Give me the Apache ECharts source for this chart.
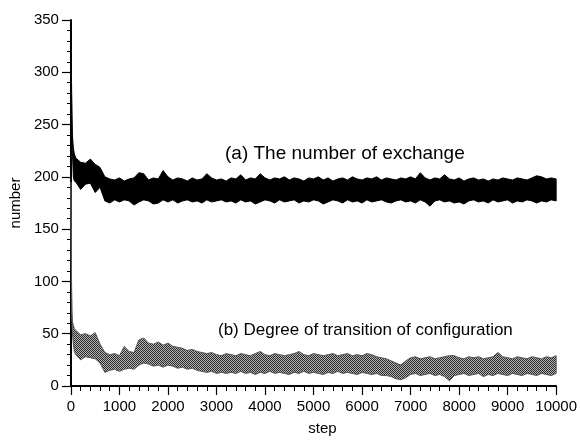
<!DOCTYPE html>
<html>
<head>
<meta charset="utf-8">
<title>number vs step</title>
<script src="https://cdn.jsdelivr.net/npm/echarts@6/dist/echarts.min.js"></script>
<style>
  html, body { margin: 0; padding: 0; background: #fff; }
  #chart { width: 580px; height: 441px; }
</style>
</head>
<body>
<div id="chart"></div>
<script>
// sample positions: a few early steps, then every 100 steps up to 10000
const earlySteps = [0, 10, 20, 30, 50, 70];
const steps = earlySteps.concat(Array.from({ length: 100 }, (_, i) => (i + 1) * 100));

const yTicks = [0, 50, 100, 150, 200, 250, 300, 350];
const xTicks = [0, 1000, 2000, 3000, 4000, 5000, 6000, 7000, 8000, 9000, 10000];

// (a) The number of exchange : upper / lower edge of the noisy band
const aHigh = [337, 300, 262, 240, 228, 222,
  218, 214, 213, 217, 212, 209, 200, 198, 197, 199,
  196, 198, 199, 204, 203, 197, 199, 198, 206, 200,
  197, 199, 198, 196, 199, 197, 198, 203, 199, 197,
  198, 196, 199, 198, 202, 197, 199, 198, 203, 199,
  197, 199, 198, 200, 197, 199, 198, 196, 199, 198,
  200, 197, 199, 196, 198, 199, 197, 200, 198, 197,
  199, 198, 200, 197, 199, 198, 197, 199, 198, 200,
  198, 204, 199, 197, 199, 198, 202, 198, 197, 199,
  196, 198, 199, 197, 198, 196, 198, 197, 199, 198,
  197, 199, 198, 197, 199, 201, 200, 198, 199, 198];
const aLow = [335, 290, 250, 225, 200, 196,
  195, 188, 193, 194, 185, 190, 177, 175, 178, 176,
  178, 177, 173, 176, 178, 177, 174, 175, 178, 176,
  178, 175, 177, 178, 176, 177, 175, 178, 176, 177,
  178, 176, 177, 175, 178, 176, 177, 174, 176, 178,
  177, 175, 178, 176, 177, 178, 175, 177, 176, 178,
  177, 174, 176, 178, 177, 175, 178, 176, 177, 175,
  178, 176, 177, 178, 176, 175, 177, 178, 176, 177,
  175, 178, 176, 172, 177, 178, 176, 177, 175, 176,
  174, 177, 178, 176, 177, 175, 178, 176, 177, 178,
  175, 177, 176, 178, 177, 175, 177, 176, 178, 177];

// (b) Degree of transition of configuration
const bHigh = [195, 110, 72, 62, 58, 55,
  53, 49, 50, 48, 51, 40, 32, 30, 31, 29,
  38, 33, 32, 44, 46, 41, 40, 42, 39, 41,
  38, 37, 36, 34, 35, 33, 32, 31, 32, 30,
  29, 31, 30, 29, 31, 30, 29, 31, 33, 30,
  29, 31, 30, 29, 30, 31, 33, 30, 29, 31,
  30, 29, 30, 31, 29, 30, 31, 29, 30, 29,
  31, 30, 28, 27, 26, 24, 22, 20, 24, 27,
  28, 26, 27, 28, 26, 27, 28, 29, 29, 27,
  26, 28, 27, 28, 26, 27, 28, 32, 28, 27,
  26, 28, 27, 26, 28, 27, 26, 28, 27, 29];
const bLow = [190, 100, 64, 52, 40, 33,
  30, 25, 28, 27, 26, 22, 13, 15, 16, 14,
  16, 17, 16, 20, 22, 21, 19, 20, 18, 20,
  19, 17, 18, 16, 17, 15, 14, 13, 14, 12,
  13, 12, 13, 12, 14, 12, 13, 11, 13, 12,
  14, 12, 13, 12, 11, 13, 12, 14, 12, 13,
  12, 11, 13, 12, 14, 12, 13, 12, 11, 13,
  12, 11, 12, 10, 10, 9, 7, 6, 8, 11,
  12, 10, 11, 12, 10, 11, 9, 5, 10, 11,
  12, 10, 11, 12, 9, 11, 10, 12, 11, 10,
  12, 11, 10, 12, 11, 10, 12, 11, 10, 12];

const FONT = 'Liberation Sans, Arial, Helvetica, sans-serif';

// halftone look of the grey band
function halftone() {
  const c = document.createElement('canvas');
  c.width = 2; c.height = 2;
  const ctx = c.getContext('2d');
  ctx.fillStyle = '#b4b4b4'; ctx.fillRect(0, 0, 2, 2);
  ctx.fillStyle = '#2a2a2a'; ctx.fillRect(0, 0, 1, 1); ctx.fillRect(1, 1, 1, 1);
  return c;
}

// one filled polygon per band: upper edge forward, lower edge back
function band(name, hi, lo, stroke, fill) {
  return {
    name: name,
    type: 'custom',
    clip: true,
    encode: { x: 0, y: [1, 2] },
    data: steps.map((s, i) => [s, lo[i], hi[i]]),
    renderItem: function (params, api) {
      if (params.dataIndex !== 0) return null;
      const pts = [];
      for (let i = 0; i < steps.length; i++) pts.push(api.coord([steps[i], hi[i]]));
      for (let i = steps.length - 1; i >= 0; i--) pts.push(api.coord([steps[i], lo[i]]));
      return {
        type: 'polygon',
        shape: { points: pts },
        style: { fill: fill, stroke: stroke, lineWidth: 1 }
      };
    }
  };
}

const chart = echarts.init(document.getElementById('chart'));

const option = {
  animation: false,
  backgroundColor: '#fff',
  grid: { left: 64, right: 22, top: 20, bottom: 54 },
  xAxis: {
    type: 'value',
    min: xTicks[0],
    max: xTicks[xTicks.length - 1],
    interval: 1000,
    name: 'step',
    nameLocation: 'middle',
    nameGap: 35,
    nameTextStyle: { fontFamily: FONT, fontSize: 15, color: '#000', padding: [0, 0, 0, 18] },
    axisLine: { lineStyle: { color: '#000', width: 2 } },
    axisTick: { inside: false, length: 9, lineStyle: { color: '#000', width: 1.2 } },
    minorTick: { show: true, splitNumber: 5, length: 5, lineStyle: { color: '#000', width: 1 } },
    splitLine: { show: false },
    axisLabel: {
      fontFamily: FONT, fontSize: 15, color: '#000', margin: 13, showMaxLabel: true,
      formatter: v => String(v)
    }
  },
  yAxis: {
    type: 'value',
    min: yTicks[0],
    max: yTicks[yTicks.length - 1],
    interval: 50,
    name: 'number',
    nameLocation: 'middle',
    nameGap: 42,
    nameTextStyle: { fontFamily: FONT, fontSize: 15, color: '#000' },
    axisLine: { show: true, lineStyle: { color: '#000', width: 2 } },
    axisTick: { show: true, inside: false, length: 9, lineStyle: { color: '#000', width: 1.2 } },
    minorTick: { show: true, splitNumber: 5, length: 4, lineStyle: { color: '#000', width: 1 } },
    splitLine: { show: false },
    axisLabel: { fontFamily: FONT, fontSize: 15, color: '#000', margin: 12 }
  },
  graphic: [{
    type: 'text',
    left: 225,
    top: 144,
    style: { text: '(a) The number of exchange', font: '19px ' + FONT, fill: '#000' }
  }, {
    type: 'text',
    left: 218,
    top: 322,
    style: { text: '(b) Degree of transition of configuration', font: '17px ' + FONT, fill: '#000' }
  }],
  series: [
    band('a', aHigh, aLow, '#000', '#000'),
    band('b', bHigh, bLow, '#555', { image: halftone(), repeat: 'repeat' })
  ]
};

chart.setOption(option);
</script>
</body>
</html>
